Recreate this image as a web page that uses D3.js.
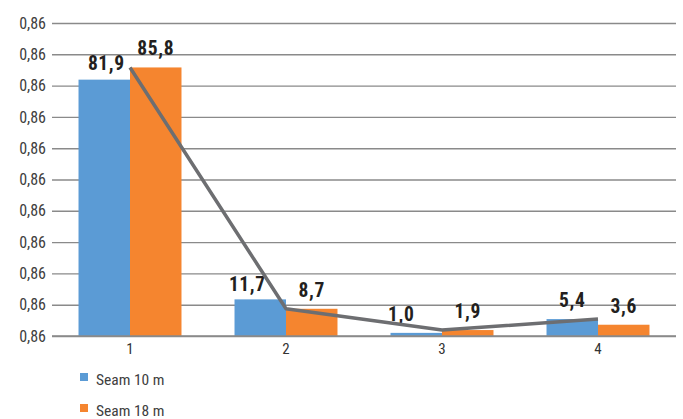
<!DOCTYPE html>
<html>
<head>
<meta charset="utf-8">
<script src="https://cdn.jsdelivr.net/npm/d3@7/dist/d3.min.js"></script>
<style>
  html, body { margin: 0; padding: 0; background: #ffffff; }
  svg { display: block; }
  text { font-family: "Liberation Sans Narrow", "Roboto Condensed", Roboto, "Liberation Sans", sans-serif; }
</style>
</head>
<body>
<svg id="chart" width="683" height="419"></svg>
<script>
// Categories and series
const categories = ["1", "2", "3", "4"];
const seriesNames = ["Seam 10 m", "Seam 18 m"];
const seam10 = [81.9, 11.7, 1.0, 5.4];
const seam18 = [85.8, 8.7, 1.9, 3.6];
const trendValues = [85.8, 8.7, 1.9, 5.4];
const yTickValues = [0, 10, 20, 30, 40, 50, 60, 70, 80, 90, 100];
const yTickLabels = ["0,86", "0,86", "0,86", "0,86", "0,86", "0,86", "0,86", "0,86", "0,86", "0,86", "0,86"];

const colors = ["#5b9bd5", "#f5852f"];
const fmt = v => d3.format(".1f")(v).replace(".", ",");

const svg = d3.select("#chart");
const plotLeft = 52, plotRight = 676, plotTop = 23, plotBottom = 336;

const x0 = d3.scaleBand().domain(categories).range([plotLeft, plotRight]).paddingInner(0).paddingOuter(0);
const x1 = d3.scaleBand().domain(seriesNames).range([0, x0.bandwidth()]).paddingInner(0).paddingOuter(0.515);
const y = d3.scaleLinear().domain([0, 100]).range([plotBottom, plotTop]);

// Gridlines and left axis
const yAxis = d3.axisLeft(y)
  .tickValues(yTickValues)
  .tickSize(-(plotRight - plotLeft))
  .tickPadding(6)
  .tickFormat((d, i) => yTickLabels[i]);

const gy = svg.append("g").attr("transform", `translate(${plotLeft},0)`).call(yAxis);
gy.select(".domain").remove();
gy.selectAll(".tick line").attr("stroke", "#8a8a8a").attr("stroke-width", 1.4);
gy.selectAll(".tick text")
  .attr("fill", "#404040")
  .attr("font-size", 16)
  .attr("x", -6);

// Category axis labels
const xAxis = d3.axisBottom(x0).tickSize(0).tickPadding(7);
const gx = svg.append("g").attr("transform", `translate(0,${plotBottom})`).call(xAxis);
gx.select(".domain").remove();
gx.selectAll(".tick text").attr("fill", "#333333").attr("font-size", 15).attr("dy", "0.75em");

// Bars
const rows = categories.map((c, i) => ({ cat: c, vals: [seam10[i], seam18[i]] }));
const groups = svg.append("g").selectAll("g")
  .data(rows).join("g")
  .attr("transform", d => `translate(${x0(d.cat)},0)`);

groups.selectAll("rect")
  .data(d => d.vals.map((v, k) => ({ key: seriesNames[k], v, k })))
  .join("rect")
  .attr("x", d => x1(d.key))
  .attr("width", x1.bandwidth())
  .attr("y", d => y(d.v))
  .attr("height", d => y(0) - y(d.v))
  .attr("fill", d => colors[d.k]);

// Baseline redrawn above bars
svg.append("line")
  .attr("x1", plotLeft).attr("x2", plotRight)
  .attr("y1", y(0)).attr("y2", y(0))
  .attr("stroke", "#8a8a8a").attr("stroke-width", 1.4);

// Trend line through category centres
const line = d3.line()
  .x((d, i) => x0(categories[i]) + x0.bandwidth() / 2)
  .y(d => y(d));
svg.append("path")
  .datum(trendValues)
  .attr("d", line)
  .attr("fill", "none")
  .attr("stroke", "#6d6e71")
  .attr("stroke-width", 3.5)
  .attr("stroke-linejoin", "round");

// Value labels above bars (a couple nudged clear of the trend line)
const nudge = { "1-0": [2, 2], "2-0": [-13, 4], "3-0": [-15, 0] };
groups.selectAll("text.val")
  .data(d => d.vals.map((v, k) => ({ key: seriesNames[k], v, k, cat: d.cat })))
  .join("text")
  .attr("class", "val")
  .attr("x", d => x1(d.key) + x1.bandwidth() / 2 + ((nudge[d.cat + "-" + d.k] || [0, 0])[0]))
  .attr("y", d => y(d.v) - 12 + ((nudge[d.cat + "-" + d.k] || [0, 0])[1]))
  .attr("text-anchor", "middle")
  .attr("font-size", 19.5)
  .attr("font-weight", "bold")
  .attr("letter-spacing", "0.6px")
  .attr("fill", "#231f20")
  .text(d => fmt(d.v));

// Legend
const legend = svg.append("g").attr("transform", "translate(80,373)");
seriesNames.forEach((name, i) => {
  const g = legend.append("g").attr("transform", `translate(0,${i * 31})`);
  g.append("rect").attr("width", 8).attr("height", 8).attr("fill", colors[i]);
  g.append("text")
    .attr("x", 16).attr("y", 11.5)
    .attr("font-size", 15.5)
    .attr("fill", "#404040")
    .text(name);
});
</script>
</body>
</html>
